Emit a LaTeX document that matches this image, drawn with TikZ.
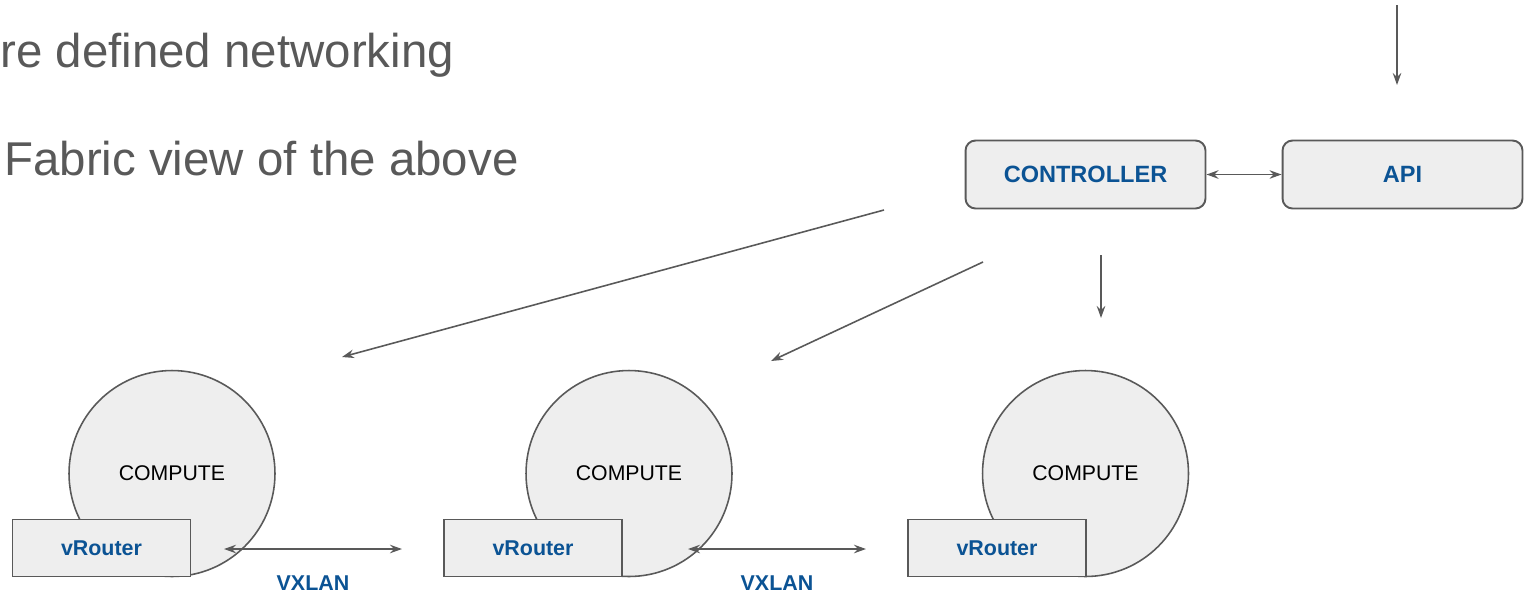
\documentclass[tikz,border=0pt]{standalone}
\usepackage{fontspec}
\setmainfont{Liberation Sans}
\usetikzlibrary{arrows.meta}
\definecolor{linegray}{HTML}{595959}
\definecolor{boxfill}{HTML}{EEEEEE}
\definecolor{labelblue}{HTML}{0B5394}

\begin{document}
\begin{tikzpicture}[x=0.02cm,y=-0.02cm,
    >={Stealth[length=0.24cm,width=0.17cm,inset=0.08cm]},
    link/.style={draw=linegray,line width=0.9pt},
    box/.style={draw=linegray,line width=1.1pt,fill=boxfill,rounded corners=0.2cm,
      minimum width=4.8cm,minimum height=1.36cm,text=labelblue,
      font=\fontsize{13.4}{16}\selectfont\bfseries},
    compute/.style={circle,draw=linegray,line width=0.9pt,fill=boxfill,
      minimum size=4.12cm,inner sep=0pt,font=\fontsize{12.1}{14}\selectfont},
    vrouter/.style={draw=linegray,line width=1.1pt,fill=boxfill,
      minimum width=3.56cm,minimum height=1.14cm,text=labelblue,
      font=\fontsize{12.2}{14}\selectfont\bfseries},
    heading/.style={anchor=base west,inner sep=0pt,text=linegray,
      font=\fontsize{27}{32}\selectfont},
    vxlan/.style={anchor=base,inner sep=0pt,text=labelblue,
      font=\fontsize{12.2}{14}\selectfont\bfseries}]

    \useasboundingbox (0,0) rectangle (1530,593);

    \node[heading] (title) at (0,67) {re defined networking};
    \node[heading] (subtitle) at (4,175) {Fabric view of the above};

    \node[box] (ctrl) at (1085.5,174.5) {CONTROLLER};
    \node[box] (api) at (1402.5,174.5) {API};

    % compute nodes with their vRouter
    \foreach \x/\b/\n in {172/101.5/1, 629/533/2, 1085.5/997/3}{
      \node[compute] (c\n) at (\x,473.5) {COMPUTE};
      \node[vrouter] (vr\n) at (\b,548) {vRouter};
    }

    \coordinate (apitop) at (1397,5);
    \coordinate (apiin) at (1397,85);
    \coordinate (ctrlout) at (1101,255);
    \coordinate (c3in) at (1101,318);
    \coordinate (ctrlout1) at (884,210);
    \coordinate (c1in) at (342,357);
    \coordinate (ctrlout2) at (983,262);
    \coordinate (c2in) at (771,361);

    \draw[link,->] (apitop) -- (apiin);
    \draw[link,<->] (ctrl) -- (api);
    \draw[link,->] (ctrlout) -- (c3in);
    \draw[link,->] (ctrlout1) -- (c1in);
    \draw[link,->] (ctrlout2) -- (c2in);

    % overlay tunnels
    \coordinate (t1a) at (224,549);
    \coordinate (t1b) at (402,549);
    \coordinate (t2a) at (688,549);
    \coordinate (t2b) at (866,549);
    \draw[link,<->] (t1a) -- (t1b);
    \draw[link,<->] (t2a) -- (t2b);
    \node[vxlan] (vx1) at (313,590) {VXLAN};
    \node[vxlan] (vx2) at (777,590) {VXLAN};

\end{tikzpicture}
\end{document}
